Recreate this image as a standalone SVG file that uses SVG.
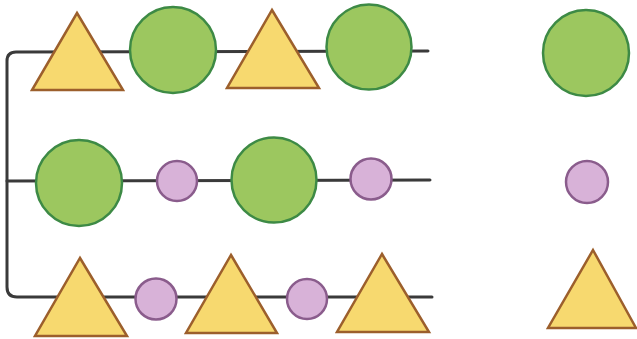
<svg xmlns="http://www.w3.org/2000/svg" width="637" height="339" viewBox="0 0 637 339">
<style>
.ln{fill:none;stroke:#3a3a3a;stroke-width:3;stroke-linecap:round;stroke-linejoin:round}
.tri{fill:#f7d96f;stroke:#9c5f2c;stroke-width:2.5;stroke-linejoin:miter}
.big{fill:#9cc75f;stroke:#3d8a45;stroke-width:2.5}
.sm{fill:#d8b2d8;stroke:#8a5c8c;stroke-width:2.5}
</style>
<rect width="637" height="339" fill="#ffffff"/>
<g id="connectors">
<path class="ln" d="M428 51 L16 52 Q7 52 7 61 L7 287 Q7 297 17 297 L432 297"/>
<path class="ln" d="M7 181 L430 180"/>
</g>
<g id="row1-tri1"><polygon class="tri" points="77,13 123,90 32,90"/></g>
<g id="row1-circ1"><circle class="big" cx="173" cy="50" r="43"/></g>
<g id="row1-tri2"><polygon class="tri" points="272,10 319,88 227,88"/></g>
<g id="row1-circ2"><circle class="big" cx="369" cy="47" r="42.5"/></g>
<g id="row2-circ1"><circle class="big" cx="79" cy="183" r="43"/></g>
<g id="row2-dot1"><circle class="sm" cx="177" cy="181" r="20"/></g>
<g id="row2-circ2"><circle class="big" cx="274" cy="180" r="42.5"/></g>
<g id="row2-dot2"><circle class="sm" cx="371" cy="179" r="20.5"/></g>
<g id="row3-tri1"><polygon class="tri" points="80,258 127,336 35,336"/></g>
<g id="row3-dot1"><circle class="sm" cx="156" cy="299" r="20.5"/></g>
<g id="row3-tri2"><polygon class="tri" points="231,255 277,333 186,333"/></g>
<g id="row3-dot2"><circle class="sm" cx="307" cy="299" r="20"/></g>
<g id="row3-tri3"><polygon class="tri" points="382,254 429,332 337,332"/></g>
<g id="legend-circle"><circle class="big" cx="586" cy="53" r="43"/></g>
<g id="legend-dot"><circle class="sm" cx="587" cy="182" r="21"/></g>
<g id="legend-tri"><polygon class="tri" points="593,250 636,328 548,328"/></g>
</svg>
